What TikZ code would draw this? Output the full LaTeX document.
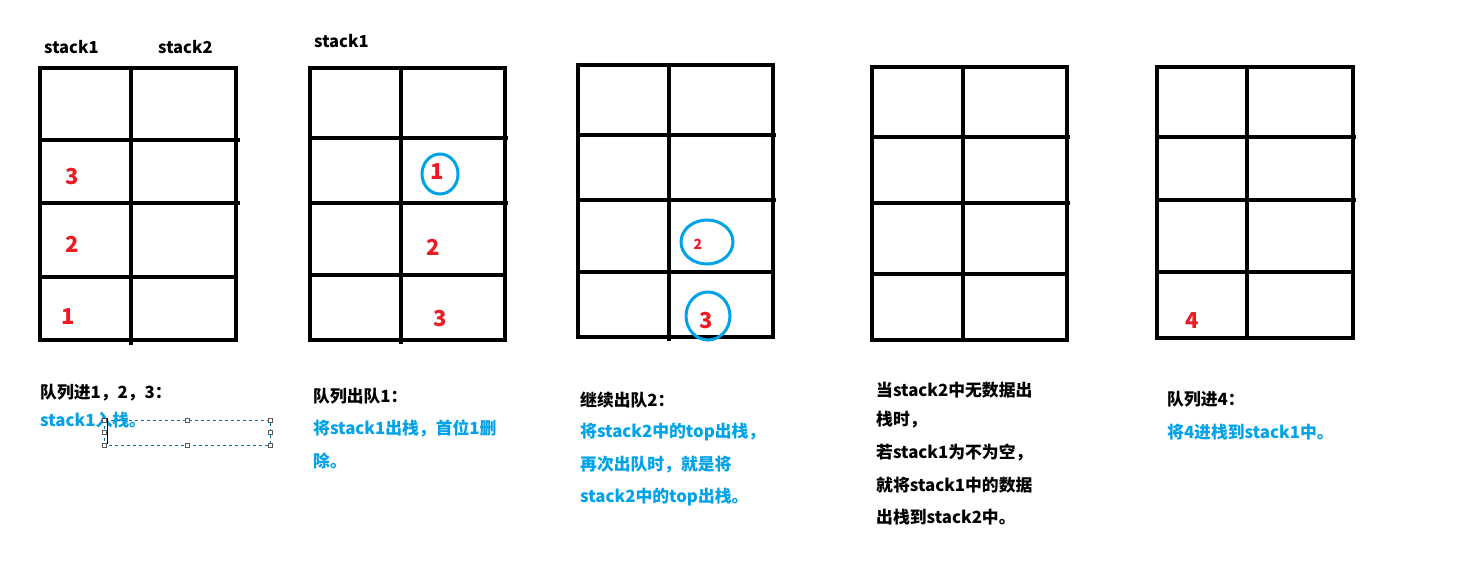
\documentclass[tikz,border=0pt]{standalone}
\usepackage{fontspec}
\setmainfont{Noto Sans CJK SC}
\definecolor{pblue}{RGB}{0,162,232}
\definecolor{pred}{RGB}{237,28,36}
\begin{document}
\begin{tikzpicture}[x=1pt,y=-1pt,
  gl/.style={line width=4.3pt,black},
  num/.style={text=pred,font=\fontsize{22}{22}\selectfont\bfseries,inner sep=0pt},
  circ/.style={draw=pblue,line width=3pt},
  hd/.style={font=\fontsize{16.5}{16.5}\selectfont\bfseries,inner sep=0pt,anchor=west},
  bt/.style={font=\fontsize{16.8}{16.8}\selectfont\bfseries,inner sep=0pt,anchor=west,text=black},
  blt/.style={font=\fontsize{16.8}{16.8}\selectfont\bfseries,inner sep=0pt,anchor=west,text=pblue},
  hdl/.style={draw=gray!70!black,fill=white,line width=0.8pt,minimum size=4pt,inner sep=0pt}]
\useasboundingbox[fill=white] (0,0) rectangle (1457,575);
% grid 1
\draw[gl] (40,68) rectangle (236,340);
\draw[gl] (131,68) -- (131,345);
\draw[gl] (40,140) -- (240,140);
\draw[gl] (40,203) -- (240,203);
\draw[gl] (40,277) -- (238,277);
\node[hd] (s1a) at (44,47) {stack1};
\node[hd] (s2a) at (158,47) {stack2};
\node[num] (n3a) at (72,177) {3};
\node[num] (n2a) at (72,244) {2};
\node[num] (n1a) at (68,317) {1};
% grid 2
\draw[gl] (310,68) rectangle (505,340);
\draw[gl] (401,68) -- (401,344);
\draw[gl] (310,138) -- (508,138);
\draw[gl] (310,203) -- (508,203);
\draw[gl] (310,275) -- (505,275);
\node[hd] (s1b) at (314,41) {stack1};
\node[num] (n1b) at (437,172) {1};
\draw[circ] (440,174) ellipse [x radius=18,y radius=20];
\node[num] (n2b) at (433,247) {2};
\node[num] (n3b) at (440,319) {3};
% grid 3
\draw[gl] (578,65) rectangle (773,337);
\draw[gl] (669,65) -- (669,341);
\draw[gl] (578,135) -- (776,135);
\draw[gl] (578,200) -- (776,200);
\draw[gl] (578,272) -- (775,272);
\node[text=pred,font=\fontsize{14}{14}\selectfont\bfseries,inner sep=0pt] (n2c) at (698,244) {2};
\draw[circ] (707,242) ellipse [x radius=26,y radius=22];
\node[num] (n3c) at (706,321) {3};
\draw[circ] (708,316) ellipse [x radius=22,y radius=24];
% grid 4
\draw[gl] (872,67) rectangle (1067,340);
\draw[gl] (963,67) -- (963,342);
\draw[gl] (872,137) -- (1070,137);
\draw[gl] (872,203) -- (1070,203);
\draw[gl] (872,274) -- (1068,274);
% grid 5
\draw[gl] (1157,67) rectangle (1353,338);
\draw[gl] (1247,67) -- (1247,340);
\draw[gl] (1157,137) -- (1356,137);
\draw[gl] (1157,200) -- (1356,200);
\draw[gl] (1157,272) -- (1354,272);
\node[num] (n4e) at (1192,321) {4};
% texts panel 1
\node[bt] (t1a) at (40,393) {队列进1，2，3：};
\node[blt] (t1b) at (40,420) {stack1入栈。};
\draw[pblue!70!black,dashed,line width=0.8pt] (104,420) rectangle (270,445);
\draw[line width=1pt] (107,418) -- (107,444);
\foreach \p in {(104,420),(187,420),(270,420),(104,432),(270,432),(104,445),(187,445),(270,445)}
  \node[hdl] at \p {};
% panel 2
\node[bt] (t2a) at (313,396) {队列出队1：};
\node[blt] (t2b) at (313,428) {将stack1出栈，首位1删};
\node[blt] (t2c) at (313,461) {除。};
% panel 3
\node[bt] (t3a) at (580,400) {继续出队2：};
\node[blt] (t3b) at (580,432) {将stack2中的top出栈，};
\node[blt] (t3c) at (580,465) {再次出队时，就是将};
\node[blt] (t3d) at (580,497) {stack2中的top出栈。};
% panel 4
\node[bt] (t4a) at (876,390) {当stack2中无数据出};
\node[bt] (t4b) at (876,420) {栈时，};
\node[bt] (t4c) at (876,453) {若stack1为不为空，};
\node[bt] (t4d) at (876,485) {就将stack1中的数据};
\node[bt] (t4e) at (876,517) {出栈到stack2中。};
% panel 5
\node[bt] (t5a) at (1167,399) {队列进4：};
\node[blt] (t5b) at (1167,432) {将4进栈到stack1中。};
\end{tikzpicture}
\end{document}
